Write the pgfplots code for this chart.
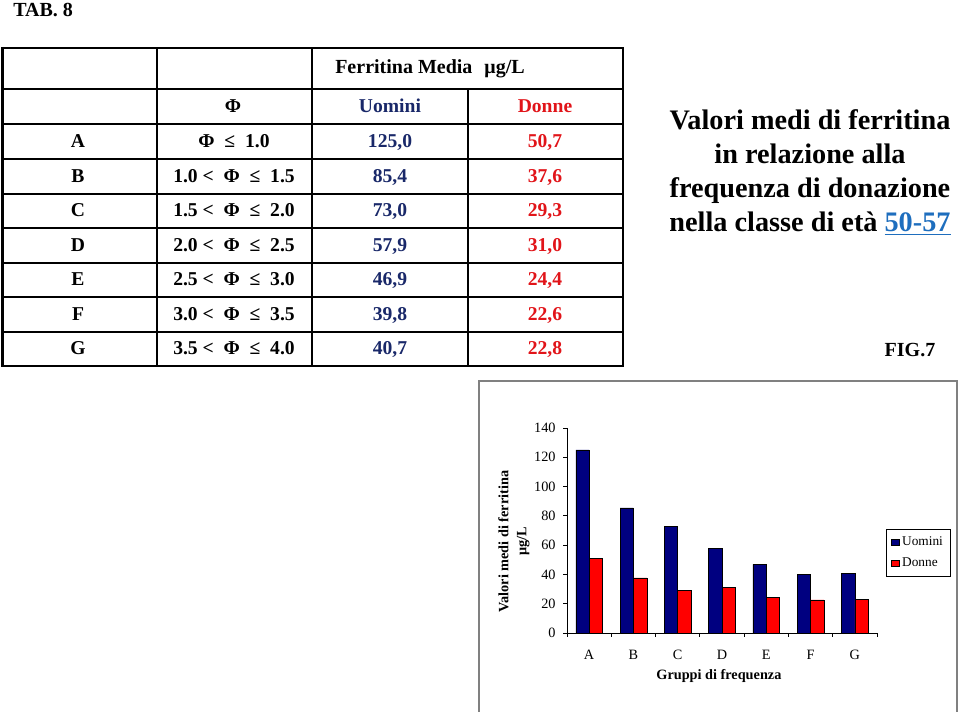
\documentclass[border=0pt]{standalone}
\usepackage{fontspec}
\setmainfont{Liberation Serif}
\usepackage{pgfplots}
\pgfplotsset{compat=1.18}
\definecolor{navytext}{RGB}{25,40,105}
\definecolor{redtext}{RGB}{225,20,25}
\definecolor{linkblue}{RGB}{30,110,190}
\definecolor{barblue}{RGB}{0,0,128}
\definecolor{barred}{RGB}{255,0,0}
\tikzset{tt/.style={anchor=base,inner sep=0pt,font=\fontsize{14.7}{16}\selectfont\bfseries}}
\newcommand\trow[5]{%
 \node[tt] at (78,#1) {#2};
 \node[tt] at (234,#1) {#3};
 \node[tt,text=navytext] at (390,#1) {#4};
 \node[tt,text=redtext] at (545,#1) {#5};}
\begin{document}
\begin{tikzpicture}[x=0.75pt,y=0.75pt]
\path[use as bounding box] (0,0) rectangle (960,712);
% caption
\node[anchor=base west,inner sep=0pt,font=\fontsize{15}{16}\selectfont\bfseries] at (13,695) {TAB. 8};
% table grid
\begin{scope}[line width=1.4pt]
\foreach \y in {664,623,588,553,518,484,449,415,380,346} \draw (2,\y) -- (623,\y);
\draw (157,664)--(157,346);
\draw (312,664)--(312,346);
\draw (468,623)--(468,346);
\draw (623,664.7)--(623,345.3);
\end{scope}
\draw[line width=2.4pt] (2.5,665)--(2.5,345);
% table text
\node[tt,anchor=base west,font=\fontsize{15}{16}\selectfont\bfseries] at (335,638) {Ferritina Media\hspace{9pt}μg/L};
\node[tt] at (233,599) {Φ};
\node[tt,text=navytext] at (390,599) {Uomini};
\node[tt,text=redtext] at (545,599) {Donne};
\trow{564.5}{A}{Φ \ ≤ \ 1.0}{125,0}{50,7}
\trow{529.5}{B}{1.0 < \ Φ \ ≤ \ 1.5}{85,4}{37,6}
\trow{495}{C}{1.5 < \ Φ \ ≤ \ 2.0}{73,0}{29,3}
\trow{460.5}{D}{2.0 < \ Φ \ ≤ \ 2.5}{57,9}{31,0}
\trow{426}{E}{2.5 < \ Φ \ ≤ \ 3.0}{46,9}{24,4}
\trow{391.5}{F}{3.0 < \ Φ \ ≤ \ 3.5}{39,8}{22,6}
\trow{357}{G}{3.5 < \ Φ \ ≤ \ 4.0}{40,7}{22,8}
% right title
\begin{scope}[every node/.style={anchor=base,inner sep=0pt,font=\fontsize{21.2}{25}\selectfont\bfseries}]
\node at (810,582) {Valori medi di ferritina};
\node at (810,548) {in relazione alla};
\node at (810,514) {frequenza di donazione};
\node at (810,480) {nella classe di età \textcolor{linkblue}{\underline{50-57}}};
\end{scope}
\node[anchor=base,inner sep=0pt,font=\fontsize{15}{16}\selectfont\bfseries] at (910,355) {FIG.7};
% chart frame
\draw[gray,line width=1.2pt] (479,0)--(479,331)--(957,331)--(957,0);
% chart
\begin{axis}[at={(425.25pt,59.25pt)}, anchor=south west, scale only axis,
  width=232.5pt, height=153.75pt,
  ybar=0pt, bar width=10pt,
  xmin=-0.5, xmax=6.5, ymin=0, ymax=140,
  xtick={-0.5,0.5,...,6.5}, x tick label as interval,
  xticklabels={A,B,C,D,E,F,G},
  ytick={0,20,...,140},
  axis lines*=left, tick align=outside, major tick length=3pt,
  tick style={black,line width=0.6pt}, axis line style={line width=0.6pt},
  /pgf/number format/assume math mode=true,
  ticklabel style={font=\fontsize{10.7}{12}\selectfont},
  xticklabel style={yshift=-6pt},
  yticklabel style={xshift=-2pt},
  xlabel={Gruppi di frequenza},
  xlabel style={at={(axis description cs:0.49,-0.212)},anchor=center,font=\fontsize{10.7}{12}\selectfont\bfseries},
  ylabel={Valori medi di ferritina\\μg/L},
  ylabel style={at={(axis description cs:-0.12,0.446)},anchor=south,inner sep=0pt,align=center,font=\fontsize{10.7}{13.5}\selectfont\bfseries},
  legend image code/.code={\draw[#1,draw=black] (0pt,-2.25pt) rectangle (6pt,2.25pt);},
  legend cell align=left,
  legend style={at={(axis description cs:1.029,0.507)},anchor=north west,draw=black,
    font=\fontsize{10}{12}\selectfont,row sep=4pt,inner xsep=3.5pt,inner ysep=3.5pt},
]
\addplot[fill=barblue,draw=black,line width=0.4pt] coordinates {(0,125.0) (1,85.4) (2,73.0) (3,57.9) (4,46.9) (5,39.8) (6,40.7)};
\addplot[fill=barred,draw=black,line width=0.4pt] coordinates {(0,50.7) (1,37.6) (2,29.3) (3,31.0) (4,24.4) (5,22.6) (6,22.8)};
\legend{Uomini,Donne}
\end{axis}
\end{tikzpicture}
\end{document}
